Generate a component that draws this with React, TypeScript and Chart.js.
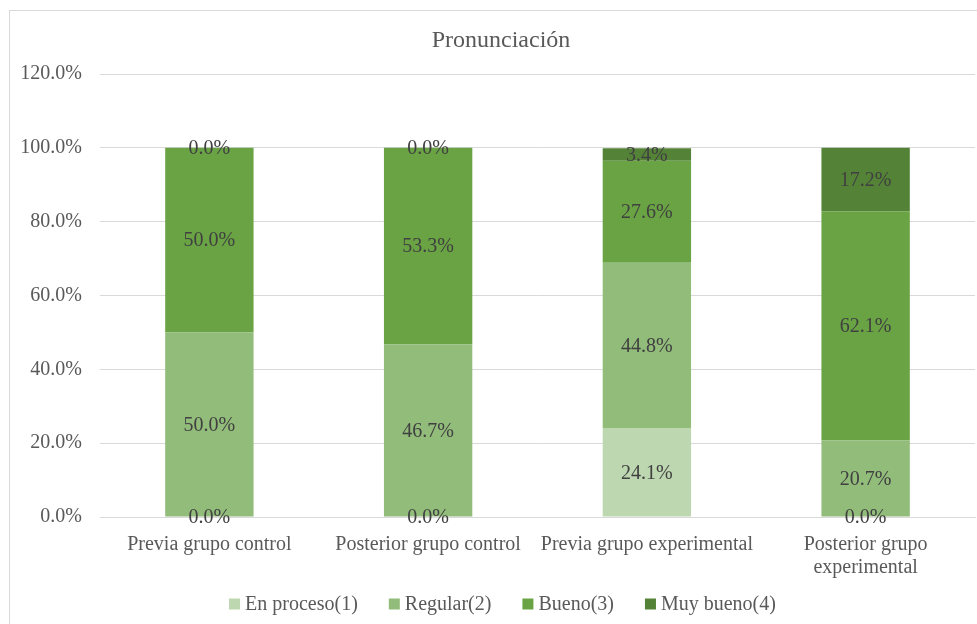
import React, { useEffect, useRef } from "react";
import { Chart, registerables } from "chart.js";

Chart.register(...registerables);

const categories: (string | string[])[] = [
  "Previa grupo control",
  "Posterior grupo control",
  "Previa grupo experimental",
  ["Posterior grupo", "experimental"],
];
const enProceso = [0, 0, 24.1, 0];
const regular = [50.0, 46.7, 44.8, 20.7];
const bueno = [50.0, 53.3, 27.6, 62.1];
const muyBueno = [0, 0, 3.4, 17.2];
const yTicks = [0, 20, 40, 60, 80, 100, 120];
const titleText = "Pronunciación";

const FONT = "'Liberation Serif', 'Times New Roman', serif";
const TXT = "#595959";

const labelPlugin = {
  id: "valueLabels",
  afterDatasetsDraw(chart: any) {
    const ctx = chart.ctx;
    ctx.save();
    ctx.font = `20px ${FONT}`;
    ctx.fillStyle = "#404040";
    ctx.textAlign = "center";
    ctx.textBaseline = "middle";
    chart.data.datasets.forEach((ds: any, di: number) => {
      const meta = chart.getDatasetMeta(di);
      meta.data.forEach((el: any, i: number) => {
        const v = ds.data[i] as number;
        const y = (el.y + el.base) / 2;
        ctx.fillText(v.toFixed(1) + "%", el.x, y + 1);
      });
    });
    ctx.restore();
  },
};

const titleLegendPlugin = {
  id: "titleLegend",
  afterDraw(chart: any) {
    const ctx = chart.ctx;
    ctx.save();
    // title
    ctx.font = `24px ${FONT}`;
    ctx.fillStyle = TXT;
    ctx.textAlign = "center";
    ctx.textBaseline = "middle";
    ctx.fillText(titleText, 501, 41);
    // legend
    ctx.font = `20px ${FONT}`;
    ctx.textAlign = "left";
    const box = 11;
    const gapText = 5;
    const gapItem = 31;
    const items = chart.data.datasets.map((ds: any) => ({
      label: ds.label as string,
      color: ds.backgroundColor as string,
      w: ctx.measureText(ds.label).width,
    }));
    const total =
      items.reduce((a: number, it: any) => a + box + gapText + it.w, 0) +
      gapItem * (items.length - 1);
    let x = 502.5 - total / 2;
    const cy = 604;
    items.forEach((it: any) => {
      ctx.fillStyle = it.color;
      ctx.fillRect(x, cy - box / 2, box, box);
      x += box + gapText;
      ctx.fillStyle = TXT;
      ctx.fillText(it.label, x, cy + 1);
      x += it.w + gapItem;
    });
    ctx.restore();
  },
};

export default function App() {
  const ref = useRef<HTMLCanvasElement>(null);
  useEffect(() => {
    const mk = (label: string, data: number[], color: string) => ({
      label,
      data,
      backgroundColor: color,
      borderWidth: 0,
      categoryPercentage: 1,
      barPercentage: 0.404,
    });
    const chart = new Chart(ref.current!, {
      type: "bar",
      data: {
        labels: categories as any,
        datasets: [
          mk("En proceso(1)", enProceso, "#bdd7b0"),
          mk("Regular(2)", regular, "#92bc7a"),
          mk("Bueno(3)", bueno, "#69a344"),
          mk("Muy bueno(4)", muyBueno, "#548338"),
        ],
      },
      options: {
        animation: false,
        responsive: false,
        maintainAspectRatio: false,
        layout: { padding: { left: 12, right: 2, top: 74, bottom: 30 } },
        plugins: {
          title: { display: false },
          legend: { display: false },
          tooltip: { enabled: false },
        },
        scales: {
          x: {
            stacked: true,
            afterFit: (s: any) => {
              s.height = 77;
            },
            grid: { display: false, drawTicks: false },
            border: { display: true, color: "#d9d9d9", width: 1 },
            ticks: {
              color: TXT,
              font: { family: FONT, size: 20, lineHeight: 1.15 },
              padding: 16,
              maxRotation: 0,
              autoSkip: false,
            },
          },
          y: {
            stacked: true,
            min: 0,
            max: 120,
            afterFit: (s: any) => {
              s.width = 88;
            },
            afterBuildTicks: (s: any) => {
              s.ticks = yTicks.map((v) => ({ value: v }));
            },
            grid: { color: "#d9d9d9", drawTicks: false },
            border: { display: false },
            ticks: {
              color: TXT,
              font: { family: FONT, size: 20 },
              padding: 18,
              callback: (v: any) => Number(v).toFixed(1) + "%",
            },
          },
        },
      },
      plugins: [labelPlugin, titleLegendPlugin],
    });
    return () => chart.destroy();
  }, []);
  return (
    <div style={{ position: "absolute", left: 0, top: 0, width: 977, height: 624, background: "#fff", overflow: "hidden" }}>
      <div
        style={{
          position: "absolute",
          left: 9,
          top: 10,
          width: 1000,
          height: 700,
          border: "1px solid #d9d9d9",
        }}
      />
      <canvas ref={ref} width={977} height={624} style={{ position: "absolute", left: 0, top: 0 }} />
    </div>
  );
}
